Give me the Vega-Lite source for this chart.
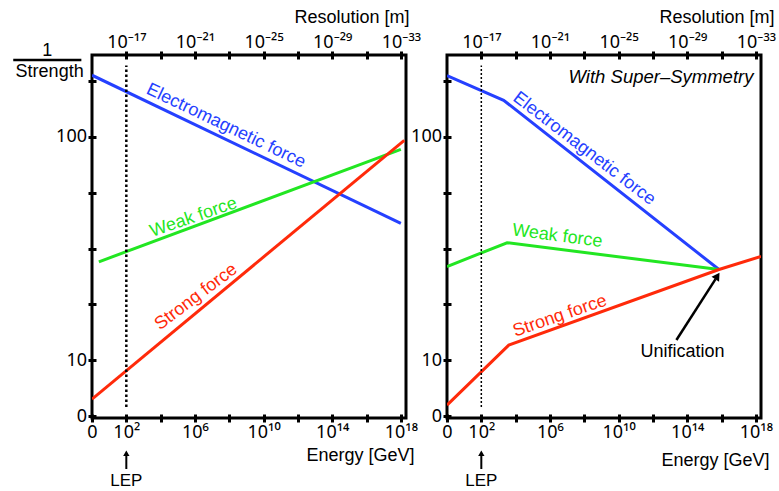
{
  "$schema": "https://vega.github.io/schema/vega-lite/v6.json",
  "background": "white",
  "padding": {"left": 10, "top": 6, "right": 5, "bottom": 3},
  "spacing": 41,
  "bounds": "flush",
  "config": {
    "view": {"stroke": "black", "strokeWidth": 3},
    "font": "Liberation Sans",
    "text": {"font": "Liberation Sans"},
    "axis": {
      "domain": false, "grid": false, "ticks": true,
      "tickColor": "black", "tickWidth": 3, "tickSize": 8, "offset": -4,
      "labelColor": "black", "labelFontSize": 18, "labelFont": "Noto Sans",
      "labelOverlap": false, "labelFlush": false,
      "titleColor": "black", "titleFontWeight": "normal", "titleFontSize": 18, "titleFont": "Liberation Sans"
    }
  },
  "datasets": {
    "left": [
      {"force": "Electromagnetic", "logE": 0, "inv": 189},
      {"force": "Electromagnetic", "logE": 18, "inv": 41},
      {"force": "Weak", "logE": 0.4, "inv": 27.6},
      {"force": "Weak", "logE": 18, "inv": 88},
      {"force": "Strong", "logE": 0, "inv": 6.7},
      {"force": "Strong", "logE": 18.2, "inv": 96.6}
    ],
    "right": [
      {"force": "Electromagnetic", "logE": 0, "inv": 188},
      {"force": "Electromagnetic", "logE": 3.3, "inv": 146},
      {"force": "Electromagnetic", "logE": 15.85, "inv": 25.5},
      {"force": "Weak", "logE": 0, "inv": 26.3},
      {"force": "Weak", "logE": 3.5, "inv": 33.6},
      {"force": "Weak", "logE": 15.85, "inv": 25.5},
      {"force": "Strong", "logE": 0, "inv": 6.3},
      {"force": "Strong", "logE": 3.6, "inv": 11.7},
      {"force": "Strong", "logE": 15.85, "inv": 25.5},
      {"force": "Strong", "logE": 18.3, "inv": 29.2}
    ]
  },
  "hconcat": [
    {
      "width": 314, "height": 363,
      "resolve": {"axis": {"x": "independent", "y": "independent"}},
      "layer": [
        {
          "data": {"name": "left"},
          "mark": {"type": "line", "strokeWidth": 3, "clip": true},
          "encoding": {
            "x": {"field": "logE", "type": "quantitative", "scale": {"domain": [0, 18.3], "nice": false, "zero": false},
              "axis": {"orient": "bottom", "values": [0, 2, 4, 6, 8, 10, 12, 14, 16, 18], "labelPadding": 1,
                "labelExpr": "datum.value == 0 ? '0' : datum.value == 2 ? '10²' : datum.value == 6 ? '10⁶' : datum.value == 10 ? '10¹⁰' : datum.value == 14 ? '10¹⁴' : datum.value == 18 ? '10¹⁸' : ''",
                "title": "Energy [GeV]", "titleX": 322, "titleY": 41, "titleAlign": "right", "titleBaseline": "middle", "titleAngle": 0}},
            "y": {"field": "inv", "type": "quantitative", "scale": {"type": "log", "domain": [5.515, 232.8], "nice": false},
              "axis": {"orient": "left", "values": [5.6234, 10, 17.7828, 31.6228, 56.2341, 100, 177.828], "labelPadding": 1.5, "title": null,
                "labelExpr": "datum.value < 6 ? '0' : abs(datum.value - 10) < 0.5 ? '10' : abs(datum.value - 100) < 1 ? '100' : ''"}},
            "color": {"field": "force", "type": "nominal", "legend": null,
              "scale": {"domain": ["Electromagnetic", "Weak", "Strong"], "range": ["#2540ff", "#22e622", "#ff2a0a"]}}
          }
        },
        {
          "data": {"values": [{}]},
          "mark": {"type": "rule", "strokeDash": [2.5, 2.5], "strokeWidth": 2.5, "color": "black"},
          "encoding": {
            "x": {"datum": 2, "type": "quantitative",
              "axis": {"orient": "top", "values": [2, 4, 6, 8, 10, 12, 14, 16, 18], "labelPadding": 0,
                "labelExpr": "datum.value == 2 ? '10⁻¹⁷' : datum.value == 6 ? '10⁻²¹' : datum.value == 10 ? '10⁻²⁵' : datum.value == 14 ? '10⁻²⁹' : datum.value == 18 ? '10⁻³³' : ''",
                "title": "Resolution [m]", "titleX": 317, "titleY": -42, "titleAlign": "right", "titleBaseline": "middle", "titleAngle": 0}},
            "y": {"datum": 6.18, "type": "quantitative", "axis": null},
            "y2": {"datum": 209}
          }
        },
        {
          "data": {"values": [{}]},
          "mark": {"type": "text", "angle": 25.5, "fontSize": 18, "color": "#2540ff", "align": "center", "baseline": "middle"},
          "encoding": {"x": {"datum": 7.8, "type": "quantitative", "axis": null}, "y": {"datum": 112, "type": "quantitative", "axis": null}, "text": {"value": "Electromagnetic force"}}
        },
        {
          "data": {"values": [{}]},
          "mark": {"type": "text", "angle": -19, "fontSize": 18, "color": "#22e622", "align": "center", "baseline": "middle"},
          "encoding": {"x": {"datum": 5.92, "type": "quantitative", "axis": null}, "y": {"datum": 43.6, "type": "quantitative", "axis": null}, "text": {"value": "Weak force"}}
        },
        {
          "data": {"values": [{}]},
          "mark": {"type": "text", "angle": -37, "fontSize": 18, "color": "#ff2a0a", "align": "center", "baseline": "middle"},
          "encoding": {"x": {"datum": 6.07, "type": "quantitative", "axis": null}, "y": {"datum": 19.2, "type": "quantitative", "axis": null}, "text": {"value": "Strong force"}}
        },
        {
          "data": {"values": [{}]},
          "mark": {"type": "text", "fontSize": 18, "color": "black", "align": "center", "baseline": "middle"},
          "encoding": {"x": {"datum": -2.61, "type": "quantitative", "axis": null}, "y": {"datum": 242.7, "type": "quantitative", "axis": null}, "text": {"value": "1"}}
        },
        {
          "data": {"values": [{}]},
          "mark": {"type": "rule", "strokeWidth": 2.5, "color": "black"},
          "encoding": {"x": {"datum": -4.59, "type": "quantitative", "axis": null}, "x2": {"datum": -0.62}, "y": {"datum": 221.3, "type": "quantitative", "axis": null}}
        },
        {
          "data": {"values": [{}]},
          "mark": {"type": "text", "fontSize": 18, "color": "black", "align": "center", "baseline": "middle"},
          "encoding": {"x": {"datum": -2.47, "type": "quantitative", "axis": null}, "y": {"datum": 195.4, "type": "quantitative", "axis": null}, "text": {"value": "Strength"}}
        },
        {
          "data": {"values": [{}]},
          "mark": {"type": "rule", "strokeWidth": 2, "color": "black"},
          "encoding": {"x": {"datum": 2, "type": "quantitative", "axis": null}, "y": {"datum": 3.26, "type": "quantitative", "axis": null}, "y2": {"datum": 3.83}}
        },
        {
          "data": {"values": [{}]},
          "mark": {"type": "point", "shape": "triangle-up", "filled": true, "opacity": 1, "color": "black", "size": 40},
          "encoding": {"x": {"datum": 2, "type": "quantitative", "axis": null}, "y": {"datum": 3.83, "type": "quantitative", "axis": null}}
        },
        {
          "data": {"values": [{}]},
          "mark": {"type": "text", "fontSize": 17, "color": "black", "align": "center", "baseline": "middle"},
          "encoding": {"x": {"datum": 2, "type": "quantitative", "axis": null}, "y": {"datum": 2.88, "type": "quantitative", "axis": null}, "text": {"value": "LEP"}}
        }
      ]
    },
    {
      "width": 314, "height": 363,
      "resolve": {"axis": {"x": "independent", "y": "independent"}},
      "layer": [
        {
          "data": {"name": "right"},
          "mark": {"type": "line", "strokeWidth": 3, "clip": true},
          "encoding": {
            "x": {"field": "logE", "type": "quantitative", "scale": {"domain": [0, 18.3], "nice": false, "zero": false},
              "axis": {"orient": "bottom", "values": [0, 2, 4, 6, 8, 10, 12, 14, 16, 18], "labelPadding": 1,
                "labelExpr": "datum.value == 0 ? '0' : datum.value == 2 ? '10²' : datum.value == 6 ? '10⁶' : datum.value == 10 ? '10¹⁰' : datum.value == 14 ? '10¹⁴' : datum.value == 18 ? '10¹⁸' : ''",
                "title": "Energy [GeV]", "titleX": 322, "titleY": 46, "titleAlign": "right", "titleBaseline": "middle", "titleAngle": 0}},
            "y": {"field": "inv", "type": "quantitative", "scale": {"type": "log", "domain": [5.515, 232.8], "nice": false},
              "axis": {"orient": "left", "values": [5.6234, 10, 17.7828, 31.6228, 56.2341, 100, 177.828], "labelPadding": 1.5, "title": null,
                "labelExpr": "datum.value < 6 ? '0' : abs(datum.value - 10) < 0.5 ? '10' : abs(datum.value - 100) < 1 ? '100' : ''"}},
            "color": {"field": "force", "type": "nominal", "legend": null,
              "scale": {"domain": ["Electromagnetic", "Weak", "Strong"], "range": ["#2540ff", "#22e622", "#ff2a0a"]}}
          }
        },
        {
          "data": {"values": [{}]},
          "mark": {"type": "rule", "strokeDash": [2, 2], "strokeWidth": 1.5, "color": "black"},
          "encoding": {
            "x": {"datum": 2, "type": "quantitative",
              "axis": {"orient": "top", "values": [2, 4, 6, 8, 10, 12, 14, 16, 18], "labelPadding": 0,
                "labelExpr": "datum.value == 2 ? '10⁻¹⁷' : datum.value == 6 ? '10⁻²¹' : datum.value == 10 ? '10⁻²⁵' : datum.value == 14 ? '10⁻²⁹' : datum.value == 18 ? '10⁻³³' : ''",
                "title": "Resolution [m]", "titleX": 327, "titleY": -42, "titleAlign": "right", "titleBaseline": "middle", "titleAngle": 0}},
            "y": {"datum": 6.18, "type": "quantitative", "axis": null},
            "y2": {"datum": 209}
          }
        },
        {
          "data": {"values": [{}]},
          "mark": {"type": "text", "angle": 37.5, "fontSize": 18, "color": "#2540ff", "align": "center", "baseline": "middle"},
          "encoding": {"x": {"datum": 7.99, "type": "quantitative", "axis": null}, "y": {"datum": 88.6, "type": "quantitative", "axis": null}, "text": {"value": "Electromagnetic force"}}
        },
        {
          "data": {"values": [{}]},
          "mark": {"type": "text", "angle": 7.5, "fontSize": 18, "color": "#22e622", "align": "center", "baseline": "middle"},
          "encoding": {"x": {"datum": 6.43, "type": "quantitative", "axis": null}, "y": {"datum": 35.96, "type": "quantitative", "axis": null}, "text": {"value": "Weak force"}}
        },
        {
          "data": {"values": [{}]},
          "mark": {"type": "text", "angle": -19, "fontSize": 18, "color": "#ff2a0a", "align": "center", "baseline": "middle"},
          "encoding": {"x": {"datum": 6.58, "type": "quantitative", "axis": null}, "y": {"datum": 15.76, "type": "quantitative", "axis": null}, "text": {"value": "Strong force"}}
        },
        {
          "data": {"values": [{}]},
          "mark": {"type": "text", "fontSize": 18.5, "fontStyle": "italic", "color": "black", "align": "right", "baseline": "middle"},
          "encoding": {"x": {"datum": 17.86, "type": "quantitative", "axis": null}, "y": {"datum": 185.8, "type": "quantitative", "axis": null}, "text": {"value": "With Super–Symmetry"}}
        },
        {
          "data": {"values": [{}]},
          "mark": {"type": "text", "fontSize": 18, "color": "black", "align": "center", "baseline": "middle"},
          "encoding": {"x": {"datum": 13.72, "type": "quantitative", "axis": null}, "y": {"datum": 10.9, "type": "quantitative", "axis": null}, "text": {"value": "Unification"}}
        },
        {
          "data": {"values": [{}]},
          "mark": {"type": "rule", "strokeWidth": 2.5, "color": "black"},
          "encoding": {"x": {"datum": 13.37, "type": "quantitative", "axis": null}, "x2": {"datum": 15.65}, "y": {"datum": 12.33, "type": "quantitative", "axis": null}, "y2": {"datum": 23.1}}
        },
        {
          "data": {"values": [{}]},
          "mark": {"type": "point", "shape": "triangle-up", "filled": true, "opacity": 1, "color": "black", "size": 80, "angle": 33},
          "encoding": {"x": {"datum": 15.76, "type": "quantitative", "axis": null}, "y": {"datum": 23.85, "type": "quantitative", "axis": null}}
        },
        {
          "data": {"values": [{}]},
          "mark": {"type": "rule", "strokeWidth": 2, "color": "black"},
          "encoding": {"x": {"datum": 2, "type": "quantitative", "axis": null}, "y": {"datum": 3.26, "type": "quantitative", "axis": null}, "y2": {"datum": 3.83}}
        },
        {
          "data": {"values": [{}]},
          "mark": {"type": "point", "shape": "triangle-up", "filled": true, "opacity": 1, "color": "black", "size": 40},
          "encoding": {"x": {"datum": 2, "type": "quantitative", "axis": null}, "y": {"datum": 3.83, "type": "quantitative", "axis": null}}
        },
        {
          "data": {"values": [{}]},
          "mark": {"type": "text", "fontSize": 17, "color": "black", "align": "center", "baseline": "middle"},
          "encoding": {"x": {"datum": 2, "type": "quantitative", "axis": null}, "y": {"datum": 2.88, "type": "quantitative", "axis": null}, "text": {"value": "LEP"}}
        }
      ]
    }
  ]
}
